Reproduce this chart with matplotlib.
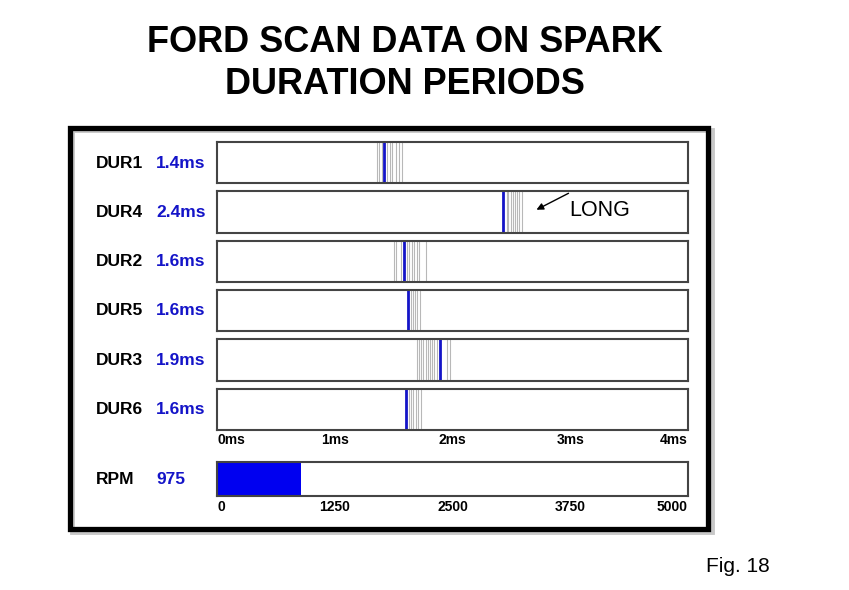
import matplotlib
matplotlib.use("Agg")
import matplotlib.pyplot as plt
from matplotlib.patches import Rectangle, FancyArrowPatch

plt.rcParams['font.family'] = ['Liberation Sans', 'DejaVu Sans']

# datos
cilindros = ["DUR1", "DUR4", "DUR2", "DUR5", "DUR3", "DUR6"]
etiquetas = ["1.4ms", "2.4ms", "1.6ms", "1.6ms", "1.9ms", "1.6ms"]
actual = [1.42, 2.43, 1.59, 1.625, 1.894, 1.602]
historico = [
    [1.361, 1.378, 1.404, 1.446, 1.469, 1.489, 1.518, 1.546, 1.569],
    [2.46, 2.474, 2.494, 2.511, 2.531, 2.55, 2.567, 2.587],
    [1.503, 1.518, 1.56, 1.611, 1.633, 1.653, 1.676, 1.696, 1.716, 1.775],
    [1.645, 1.662, 1.682, 1.701, 1.724],
    [1.696, 1.716, 1.732, 1.752, 1.772, 1.789, 1.809, 1.829, 1.846, 1.866, 1.951, 1.979],
    [1.631, 1.648, 1.667, 1.69, 1.71, 1.73],
]
ms_ticks = [0, 1, 2, 3, 4]
ms_labels = ["0ms", "1ms", "2ms", "3ms", "4ms"]
rpm_texto = "975"
rpm_barra = 892
rpm_ticks = [0, 1250, 2500, 3750, 5000]
rpm_labels = ["0", "1250", "2500", "3750", "5000"]

W, H = 849, 590
fig = plt.figure(figsize=(W / 100, H / 100), dpi=100)

def fx(x):
    return x / W

def fy(y):
    return 1 - y / H

azul = "#1414c8"
borde = "#444444"

# titulo
fig.text(fx(405), fy(42), "FORD SCAN DATA ON SPARK", ha="center", va="center",
         fontsize=26, fontweight="bold")
fig.text(fx(405), fy(84), "DURATION PERIODS", ha="center", va="center",
         fontsize=26, fontweight="bold")

# marco con sombra
fig.add_artist(Rectangle((fx(72), fy(532)), fx(640), 402 / H, transform=fig.transFigure,
                         facecolor="none", edgecolor="#c8c8c8", lw=3.5))
fig.add_artist(Rectangle((fx(70), fy(529)), fx(638), 401 / H, transform=fig.transFigure,
                         facecolor="none", edgecolor="black", lw=3.8))

x0, x1 = 217, 688
for i, nombre in enumerate(cilindros):
    top = 142 + i * 49.3
    ax = fig.add_axes([fx(x0), fy(top + 41.5), fx(x1 - x0), 41.5 / H])
    ax.set_xlim(0, 4)
    ax.set_ylim(0, 1)
    for h in historico[i]:
        ax.axvline(h, color="#b8b8b8", lw=0.8)
    ax.axvline(actual[i], color=azul, lw=2)
    for s in ax.spines.values():
        s.set_color(borde)
        s.set_linewidth(1.5)
    ax.set_yticks([])
    if i == len(cilindros) - 1:
        ax.set_xticks(ms_ticks, ms_labels, fontsize=10, fontweight="bold")
        ax.tick_params(axis="x", length=0, pad=2)
        lbls = ax.get_xticklabels()
        lbls[0].set_ha("left")
        lbls[-1].set_ha("right")
    else:
        ax.set_xticks([])
    fig.text(fx(96), fy(top + 21), nombre, ha="left", va="center", fontsize=12.5, fontweight="bold")
    fig.text(fx(156), fy(top + 21), etiquetas[i], ha="left", va="center", fontsize=12.5,
             fontweight="bold", color=azul)

# flecha LONG
fig.text(fx(569), fy(211), "LONG", ha="left", va="center", fontsize=15.5)
fig.add_artist(FancyArrowPatch((fx(571), fy(192)), (fx(534), fy(211)),
                               transform=fig.transFigure, arrowstyle="-|>",
                               mutation_scale=10, lw=1, color="black"))

# RPM
ax = fig.add_axes([fx(x0), fy(496), fx(x1 - x0), 34 / H])
ax.set_xlim(0, 5000)
ax.set_ylim(0, 1)
ax.barh(0.5, rpm_barra, height=1, left=0, color="#0000f0")
for s in ax.spines.values():
    s.set_color(borde)
    s.set_linewidth(1.5)
ax.set_yticks([])
ax.set_xticks(rpm_ticks, rpm_labels, fontsize=10, fontweight="bold")
ax.tick_params(axis="x", length=0, pad=3)
lbls = ax.get_xticklabels()
lbls[0].set_ha("left")
lbls[-1].set_ha("right")
fig.text(fx(96), fy(479), "RPM", ha="left", va="center", fontsize=12.5, fontweight="bold")
fig.text(fx(156), fy(479), rpm_texto, ha="left", va="center", fontsize=12.5,
         fontweight="bold", color=azul)

fig.text(fx(706), fy(566), "Fig. 18", ha="left", va="center", fontsize=15)

plt.savefig("out.png", dpi=100)
